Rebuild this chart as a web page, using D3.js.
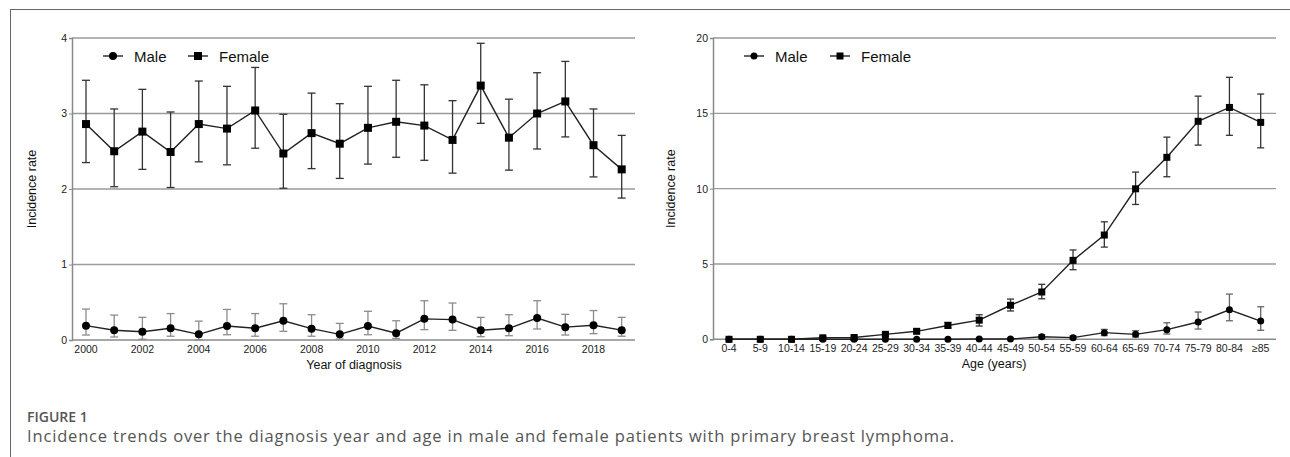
<!DOCTYPE html>
<html><head><meta charset="utf-8">
<script src="https://cdn.jsdelivr.net/npm/d3@7"></script>
<style>body{margin:0;background:#fff}svg{display:block}</style>
</head><body>
<svg id="c" width="1290" height="457"></svg>
<script>
const years = d3.range(2000, 2020);
const yearTicks = [2000,2002,2004,2006,2008,2010,2012,2014,2016,2018];
const femaleYear = [2.86,2.50,2.76,2.49,2.86,2.80,3.04,2.47,2.74,2.60,2.81,2.89,2.84,2.65,3.37,2.68,3.00,3.16,2.58,2.26];
const femaleYearHi = [3.44,3.06,3.32,3.02,3.43,3.36,3.61,2.99,3.27,3.13,3.36,3.44,3.38,3.17,3.93,3.19,3.54,3.69,3.06,2.71];
const femaleYearLo = [2.35,2.03,2.26,2.02,2.36,2.32,2.54,2.01,2.27,2.14,2.33,2.42,2.38,2.21,2.87,2.25,2.53,2.69,2.16,1.88];
const maleYear = [0.19,0.13,0.11,0.155,0.075,0.185,0.155,0.255,0.15,0.075,0.185,0.09,0.28,0.27,0.13,0.155,0.29,0.17,0.195,0.13];
const maleYearHi = [0.41,0.33,0.30,0.35,0.25,0.405,0.35,0.48,0.335,0.22,0.38,0.255,0.52,0.49,0.30,0.335,0.52,0.34,0.39,0.30];
const maleYearLo = [0.066,0.04,0.01,0.05,0.0,0.07,0.05,0.115,0.05,0.013,0.07,0.02,0.137,0.128,0.044,0.057,0.146,0.066,0.084,0.05];
const leftYTicks = [0,1,2,3,4];

const ages = ["0-4","5-9","10-14","15-19","20-24","25-29","30-34","35-39","40-44","45-49","50-54","55-59","60-64","65-69","70-74","75-79","80-84","≥85"];
const femaleAge = [0,0,0,0.10,0.12,0.33,0.53,0.92,1.27,2.26,3.14,5.24,6.92,9.99,12.08,14.47,15.39,14.40];
const femaleAgeHi = [0,0,0,0.18,0.22,0.45,0.68,1.12,1.63,2.67,3.65,5.93,7.80,11.10,13.42,16.14,17.39,16.28];
const femaleAgeLo = [0,0,0,0.03,0.05,0.22,0.40,0.75,0.88,1.88,2.69,4.62,6.12,8.95,10.79,12.89,13.54,12.71];
const maleAge = [0,0,0,0,0,0,0,0,0.02,0.02,0.17,0.11,0.44,0.33,0.64,1.15,1.96,1.21];
const maleAgeHi = [0,0,0,0,0,0,0,0,0.06,0.07,0.30,0.22,0.66,0.57,1.10,1.81,3.00,2.16];
const maleAgeLo = [0,0,0,0,0,0,0,0,0,0,0.07,0.03,0.24,0.15,0.35,0.68,1.23,0.60];
const rightYTicks = [0,5,10,15,20];

const svg = d3.select("#c");
const FONT = "Liberation Sans, Arial, sans-serif";

// frame
svg.append("line").attr("x1",10).attr("x2",1290).attr("y1",9.5).attr("y2",9.5).attr("stroke","#666").attr("stroke-width",1);
svg.append("line").attr("x1",10.5).attr("x2",10.5).attr("y1",9).attr("y2",457).attr("stroke","#666").attr("stroke-width",1);

function panel(opt){
  const g = svg.append("g");
  const x = opt.x, y = opt.y;
  g.selectAll(".grid").data(opt.yTicks.filter(t=>t!==0)).join("line")
    .attr("x1",opt.axisX).attr("x2",opt.gridEnd)
    .attr("y1",d=>y(d)).attr("y2",d=>y(d))
    .attr("stroke","#9a9a9a").attr("stroke-width",1.3);
  g.append("line").attr("x1",opt.axisX).attr("x2",opt.gridEnd).attr("y1",y(0)).attr("y2",y(0))
    .attr("stroke","#8a8a8a").attr("stroke-width",1.5);
  const ya = d3.axisLeft(y).tickValues(opt.yTicks).tickFormat(d3.format("d")).tickSize(3).tickPadding(2);
  const yg = g.append("g").attr("transform",`translate(${opt.axisX},0)`).call(ya);
  yg.select(".domain").attr("stroke","#8a8a8a").attr("stroke-width",1.5);
  yg.selectAll(".tick line").attr("stroke","#8a8a8a");
  yg.selectAll("text").attr("font-family",FONT).attr("font-size",10.5).attr("fill","#222");
  g.selectAll(".xl").data(opt.xTicks).join("text")
    .attr("x",d=>x(d)).attr("y",y(0)+13).attr("text-anchor","middle")
    .attr("font-family",FONT).attr("font-size",10.5).attr("fill","#222")
    .text(d=>d);
  g.append("text").attr("x",opt.xTitleX).attr("y",y(0)+29).attr("text-anchor","middle")
    .attr("font-family",FONT).attr("font-size",12.5).attr("fill","#111").text(opt.xTitle);
  g.append("text").attr("transform",`translate(${opt.yTitleX},${(y(0)+y(opt.yTicks[opt.yTicks.length-1]))/2}) rotate(-90)`)
    .attr("text-anchor","middle").attr("font-family",FONT).attr("font-size",12.5).attr("fill","#111").text("Incidence rate");

  function series(cats, vals, hi, lo, shape, errColor, cap){
    const data = cats.map((c,i)=>({c, v:vals[i], h:hi[i], l:lo[i]}));
    const eg = g.append("g");
    data.forEach(d=>{
      if (d.h - d.l <= 0) return;
      eg.append("line").attr("x1",x(d.c)).attr("x2",x(d.c)).attr("y1",y(d.h)).attr("y2",y(d.l))
        .attr("stroke",errColor).attr("stroke-width",1.3);
      [d.h,d.l].forEach(v=>eg.append("line").attr("x1",x(d.c)-cap).attr("x2",x(d.c)+cap)
        .attr("y1",y(v)).attr("y2",y(v)).attr("stroke",errColor).attr("stroke-width",1.3));
    });
    g.append("path").datum(data)
      .attr("d",d3.line().x(d=>x(d.c)).y(d=>y(d.v)))
      .attr("fill","none").attr("stroke","#222").attr("stroke-width",1.4);
    if (shape==="circle"){
      g.selectAll(null).data(data).join("circle").attr("cx",d=>x(d.c)).attr("cy",d=>y(d.v))
        .attr("r",opt.r).attr("fill","#000");
    } else {
      g.selectAll(null).data(data).join("rect").attr("x",d=>x(d.c)-opt.sq/2).attr("y",d=>y(d.v)-opt.sq/2)
        .attr("width",opt.sq).attr("height",opt.sq).attr("fill","#000");
    }
  }
  series(opt.cats, opt.male, opt.maleHi, opt.maleLo, "circle", opt.maleErr, opt.cap);
  series(opt.cats, opt.female, opt.femaleHi, opt.femaleLo, "square", "#333", opt.cap);

  const L = opt.legend;
  const lg = g.append("g");
  lg.append("line").attr("x1",L.mx-10).attr("x2",L.mx+10).attr("y1",L.y).attr("y2",L.y).attr("stroke","#222").attr("stroke-width",1.4);
  lg.append("circle").attr("cx",L.mx).attr("cy",L.y).attr("r",opt.r).attr("fill","#000");
  lg.append("text").attr("x",L.mx+21).attr("y",L.y+5.5).attr("font-family",FONT).attr("font-size",15).attr("fill","#111").text("Male");
  lg.append("line").attr("x1",L.fx-10).attr("x2",L.fx+10).attr("y1",L.y).attr("y2",L.y).attr("stroke","#222").attr("stroke-width",1.4);
  lg.append("rect").attr("x",L.fx-opt.sq/2).attr("y",L.y-opt.sq/2).attr("width",opt.sq).attr("height",opt.sq).attr("fill","#000");
  lg.append("text").attr("x",L.fx+21).attr("y",L.y+5.5).attr("font-family",FONT).attr("font-size",15).attr("fill","#111").text("Female");
}

panel({
  x: d3.scaleLinear().domain([2000,2019]).range([86,621.7]),
  y: d3.scaleLinear().domain([0,4]).range([340,38]),
  axisX: 72, gridEnd: 635, yTicks: leftYTicks, xTicks: yearTicks,
  xTitle: "Year of diagnosis", xTitleX: 354, yTitleX: 36,
  cats: years, male: maleYear, maleHi: maleYearHi, maleLo: maleYearLo,
  female: femaleYear, femaleHi: femaleYearHi, femaleLo: femaleYearLo,
  maleErr: "#8c8c8c", cap: 4, r: 4, sq: 8,
  legend: {y: 56, mx: 113, fx: 198}
});

panel({
  x: d3.scalePoint().domain(ages).range([729, 1260.7]),
  y: d3.scaleLinear().domain([0,20]).range([339.3,38]),
  axisX: 713, gridEnd: 1276, yTicks: rightYTicks, xTicks: ages,
  xTitle: "Age (years)", xTitleX: 994, yTitleX: 675,
  cats: ages, male: maleAge, maleHi: maleAgeHi, maleLo: maleAgeLo,
  female: femaleAge, femaleHi: femaleAgeHi, femaleLo: femaleAgeLo,
  maleErr: "#666", cap: 3.5, r: 3.5, sq: 7,
  legend: {y: 56, mx: 754, fx: 840}
});

// caption
svg.append("text").attr("x",27).attr("y",421.5).attr("font-family","Open Sans, sans-serif").attr("font-size",14)
  .attr("font-weight",600).attr("fill","#555").text("FIGURE 1");
const cap = svg.append("text").attr("x",27).attr("y",441.5).attr("font-family","Open Sans, sans-serif").attr("font-size",16.5)
  .attr("fill","#555").text("Incidence trends over the diagnosis year and age in male and female patients with primary breast lymphoma.");
const w = cap.node().getComputedTextLength();
const n = cap.text().length;
cap.attr("letter-spacing", ((928 - w) / n).toFixed(3));
</script>
</body></html>
